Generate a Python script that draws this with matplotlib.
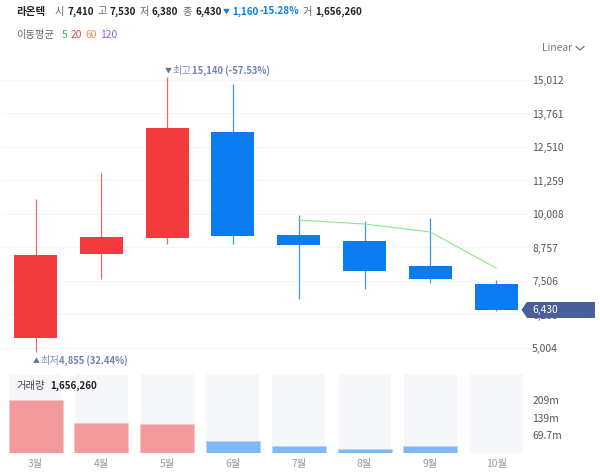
import matplotlib
matplotlib.use("Agg")
import matplotlib.pyplot as plt
from matplotlib.lines import Line2D
from matplotlib.patches import FancyBboxPatch, Polygon

plt.rcParams['font.family'] = ['Noto Sans CJK KR', 'DejaVu Sans']

months = ["3월", "4월", "5월", "6월", "7월", "8월", "9월", "10월"]
opens = [5377, 8514, 9111, 13070, 9224, 9000, 8066, 7410]
closes = [8477, 9149, 13219, 9186, 8850, 7880, 7580, 6430]
highs = [10568, 11539, 15140, 14862, 9970, 9746, 9858, 7530]
lows = [4855, 7580, 8887, 8887, 6834, 7207, 7431, 6380]
ma5_x = [4, 5, 6, 7]
ma5 = [9784, 9634, 9336, 7992]
volumes = [210, 119, 115, 48, 29, 15, 26, 1.66]
price_ticks = [15012, 13761, 12510, 11259, 10008, 8757, 7506, 6255, 5004]
vol_ticks = [209, 139, 69.7]
vol_labels = ["209m", "139m", "69.7m"]
vol_top = 314

W, H = 600, 473
RED = "#f23a3f"
BLUE = "#0a7cf0"
DARK = "#222222"
GRAY = "#666666"
TAG = "#4a5f9a"
FS = 7.4
BOLD = 7.1


def rect(x0, y0, x1, y1):
    # pixel box, y going down from the top of the picture
    return [x0 / W, 1 - y1 / H, (x1 - x0) / W, (y1 - y0) / H]


def txt(x, y, s, color=DARK, weight="normal", size=FS):
    fig.text(x / W, 1 - y / H, s, color=color, fontweight=weight, fontsize=size, va="center", ha="left")


def px_x(p):
    # pixel column to candle units
    return (p - 35.5) / 65.8


fig = plt.figure(figsize=(6, 4.73), dpi=100)

# x positions: candle i is centred on 35.5 + 65.8 * i pixels
xlim = (px_x(2), px_x(528))
x = list(range(len(months)))
colors = [RED if c > o else BLUE for o, c in zip(opens, closes)]

ax = fig.add_axes(rect(2, 60, 528, 365))
ax.set_xlim(xlim)
# 15012 sits at y=80 and 5004 at y=348
per_px = (15012 - 5004) / (348 - 80)
ax.set_ylim(5004 - (365 - 348) * per_px, 15012 + (80 - 60) * per_px)
for s in ax.spines.values():
    s.set_visible(False)
ax.set_xticks([])
ax.yaxis.tick_right()
ax.set_yticks(price_ticks)
ax.set_yticklabels([f"{t:,}" for t in price_ticks], fontsize=FS, color="#555555")
ax.tick_params(axis="y", length=0, pad=3)
ax.grid(axis="y", color="#f4f5f7", linewidth=1)
ax.set_axisbelow(True)

wick_colors = ["#e8686c" if c == RED else "#3d97f3" for c in colors]
ax.vlines(x, lows, highs, colors=wick_colors, linewidth=0.9, zorder=2)
ax.bar(x, [c - o for o, c in zip(opens, closes)], bottom=opens, width=43 / 65.8, color=colors, zorder=3)
ax.plot(ma5_x, ma5, color="#8be58b", linewidth=0.8, zorder=4)

# last price tag
last = closes[-1]
ax.add_patch(Polygon([(px_x(521.5), last), (px_x(527), last + 8 * per_px), (px_x(527), last - 8 * per_px)],
                     closed=True, fc=TAG, ec="none", clip_on=False, zorder=5))
ax.add_patch(FancyBboxPatch((px_x(527), last - 8 * per_px), px_x(594.5) - px_x(527), 16 * per_px,
                            boxstyle="square,pad=0", fc=TAG, ec="none", clip_on=False, zorder=5))
ax.text(px_x(532), last, f"{last:,}", color="white", fontsize=FS, va="center", ha="left", clip_on=False, zorder=6)

# volume panel
vx = fig.add_axes(rect(2, 374, 528, 453))
vx.set_xlim(xlim)
vx.set_ylim(0, vol_top)
for s in vx.spines.values():
    s.set_visible(False)
vx.bar(x, [vol_top] * len(x), width=53 / 65.8, color="#f6f7fb", zorder=1)
vol_colors = ["#f29a9e" if c == RED else "#7fb8f7" for c in colors]
vol_edges = ["#f9c3c5" if c == RED else "#b5d6fa" for c in colors]
vx.bar(x, volumes, width=54 / 65.8, color=vol_colors, edgecolor=vol_edges, linewidth=0.6, zorder=2)
vx.set_xticks(x)
vx.set_xticklabels(months, fontsize=FS, color="#999999")
vx.yaxis.tick_right()
vx.set_yticks(vol_ticks)
vx.set_yticklabels(vol_labels, fontsize=FS, color="#555555")
vx.tick_params(axis="both", length=0)
vx.tick_params(axis="y", pad=3)
vx.tick_params(axis="x", pad=4)

# header
txt(16.5, 11.5, "라온텍", weight="bold", size=7.6)
txt(55, 11.5, "시", GRAY)
txt(67.5, 11.5, "7,410", weight="bold", size=BOLD)
txt(97.5, 11.5, "고", GRAY)
txt(110, 11.5, "7,530", weight="bold", size=BOLD)
txt(140, 11.5, "저", GRAY)
txt(152, 11.5, "6,380", weight="bold", size=BOLD)
txt(182.5, 11.5, "종", GRAY)
txt(195, 11.5, "6,430", weight="bold", size=BOLD)
txt(222.5, 11.5, "▼", BLUE, size=5)
txt(232, 11.5, "1,160", BLUE, "bold", size=BOLD)
txt(260, 11.5, "-15.28%", BLUE, "bold", size=BOLD)
txt(302.5, 11.5, "거", GRAY)
txt(315, 11.5, "1,656,260", weight="bold", size=BOLD)

txt(16.5, 35, "이동평균", GRAY)
txt(62, 35, "5", "#22c33a")
txt(71, 35, "20", "#f4474c")
txt(85.5, 35, "60", "#f58a3c")
txt(100, 35, "120", "#9254e8")

txt(542, 48, "Linear", "#777777")
fig.add_artist(Line2D([576 / W, 580 / W, 584 / W], [1 - 46.5 / H, 1 - 50 / H, 1 - 46.5 / H],
                      color="#666666", linewidth=0.8))

# high / low notes
txt(164.5, 71, "▼", "#5f75ad", size=5)
txt(172, 71, "최고", "#7d90bd")
txt(192, 71, "15,140 (-57.53%)", "#6f83b5", "bold", size=6.8)
txt(33, 361, "▲", "#5f75ad", size=5)
txt(40, 361, "최저", "#7d90bd")
txt(59, 361, "4,855 (32.44%)", "#6f83b5", "bold", size=6.8)
txt(16.5, 385.5, "거래량", "#444444")
txt(50, 385.5, "1,656,260", weight="bold", size=BOLD)

fig.savefig("out.png", dpi=100)
